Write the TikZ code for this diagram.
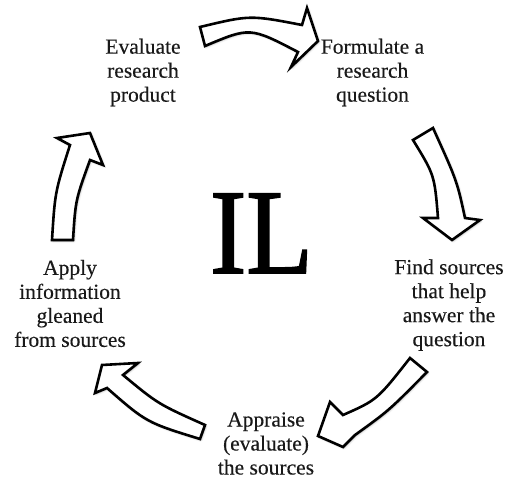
\documentclass[tikz,border=0pt]{standalone}
\usepackage{fontspec}
\setmainfont{Liberation Serif}
\newfontfamily\lblfont{Liberation Serif}[FakeBold=0.3]
\newfontfamily\ilfont{Liberation Serif}[FakeBold=1.5]
\usetikzlibrary{shadows.blur}
\begin{document}
\begin{tikzpicture}[x=1pt,y=-1pt,
  lbl/.style={font=\lblfont\fontsize{21.5}{24}\selectfont, align=center, inner sep=0pt, text=black!90},
  blockarrow/.style={draw=black, fill=white, line width=2.6pt, line join=miter,
    blur shadow={shadow xshift=1pt, shadow yshift=-1pt, shadow blur radius=2pt, shadow opacity=35}}]
\useasboundingbox (0,0) rectangle (508,481);

% text nodes
\node[lbl] (evaluate) at (143,72.5) {Evaluate\\research\\product};
\node[lbl] (formulate) at (372.5,72.5) {Formulate a\\research\\question};
\node[lbl] (find) at (449,305) {Find sources\\that help\\answer the\\question};
\node[lbl] (appraise) at (266,443.5) {Appraise\\(evaluate)\\the sources};
\node[lbl] (apply) at (70,303.5) {Apply\\information\\gleaned\\from sources};
\node[inner sep=0pt, anchor=base] (il) at (261.5,273)
  {\ilfont\fontsize{121}{121}\selectfont\scalebox{0.9}[1]{IL}};

% top arrow
\path[blockarrow] (200,27) .. controls (250,15) .. (302,25) -- (307,8) -- (318,41)
  -- (291,67) -- (298,52) .. controls (250,27) .. (205,46) -- cycle;
% right arrow
\path[blockarrow] (433,128) .. controls (457,181) .. (465,218) -- (480,220) -- (452,240)
  -- (423,218) -- (438,218) .. controls (434.5,175) .. (413,140) -- cycle;
% bottom-right arrow
\path[blockarrow] (427,372) .. controls (389,410.5) .. (355,435) -- (343,447) -- (318,436)
  -- (330,402) -- (343,415) .. controls (377,400) .. (410,358) -- cycle;
% bottom-left arrow
\path[blockarrow] (205,425) .. controls (158,404) .. (123,375) -- (138,363) -- (102,365)
  -- (95,393) -- (107,388) .. controls (146.5,422.5) .. (200,439) -- cycle;
% left arrow
\path[blockarrow] (52,240) .. controls (55,192) .. (70,145) -- (57,138) -- (90,133)
  -- (103,165) -- (90,160) .. controls (75.5,200) .. (73,240) -- cycle;
\end{tikzpicture}
\end{document}
